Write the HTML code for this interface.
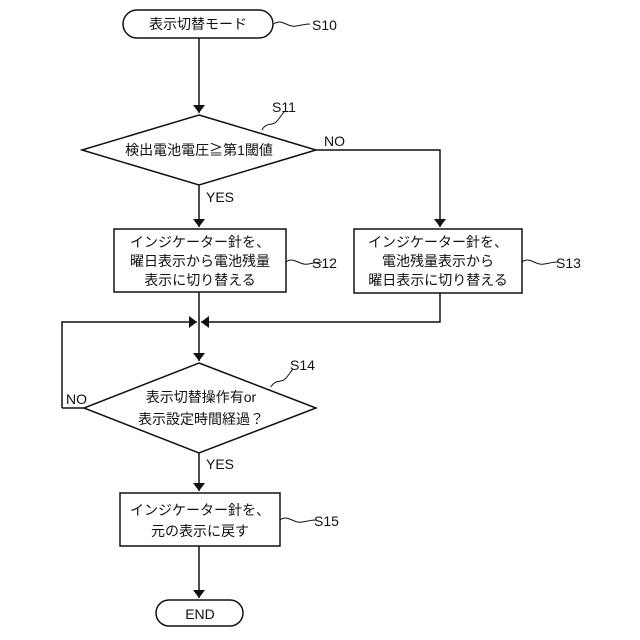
<!DOCTYPE html>
<html><head><meta charset="utf-8"><style>
html,body{margin:0;padding:0;background:#fff;}
svg{display:block;}
text{font-family:"Liberation Sans","Noto Sans CJK JP",sans-serif;fill:#111;}
</style></head><body>
<svg width="640" height="640" viewBox="0 0 640 640" xmlns="http://www.w3.org/2000/svg">
<defs><marker id="a" markerWidth="8" markerHeight="12" refX="8" refY="6" orient="auto" markerUnits="userSpaceOnUse"><path d="M0,0 L8,6 L0,12 z" fill="#111"/></marker></defs>
<g stroke="#111" stroke-width="1.5" fill="none">
<rect x="123" y="10" width="150" height="28" rx="14" fill="#fff"/>
<path d="M199,38 V113" marker-end="url(#a)"/>
<polygon points="199,115 316,150 199,185 82,150" fill="#fff"/>
<path d="M199,185 V227" marker-end="url(#a)"/>
<path d="M316,150 H440 V227" marker-end="url(#a)"/>
<rect x="114" y="229" width="172" height="63" fill="#fff"/>
<rect x="354" y="229" width="168" height="64" fill="#fff"/>
<path d="M199,292 V322"/>
<path d="M440,293 V322 H201" marker-end="url(#a)"/>
<path d="M62,408 V322 H197" marker-end="url(#a)"/>
<path d="M199,322 V361" marker-end="url(#a)"/>
<polygon points="199,363 316,408 199,453 84,408" fill="#fff"/>
<path d="M84,408 H62"/>
<path d="M199,453 V491" marker-end="url(#a)"/>
<rect x="120" y="493" width="160" height="53" fill="#fff"/>
<path d="M199,546 V598" marker-end="url(#a)"/>
<rect x="156" y="600" width="87" height="26" rx="13" fill="#fff"/>
<path d="M274,24 c8,-6 14,4 22,2 c6,-1 10,-2 14,-2" stroke-width="1"/>
<path d="M262,130 c4,-8 10,-4 14,-8 c4,-4 6,-8 8,-10" stroke-width="1"/>
<path d="M286,262 c8,-6 14,4 22,2 c6,-1 10,-2 14,-2" stroke-width="1"/>
<path d="M522,262 c8,-6 14,4 22,2 c6,-1 10,-2 14,-2" stroke-width="1"/>
<path d="M271,387 c4,-8 10,-4 14,-8 c4,-4 6,-8 8,-10" stroke-width="1"/>
<path d="M280,520 c8,-6 14,4 22,2 c6,-1 10,-2 14,-2" stroke-width="1"/>
</g>
<g font-size="14" text-anchor="middle">
<text x="198" y="29">表示切替モード</text>
<text x="199" y="155">検出電池電圧≧第1閾値</text>
<text x="200" y="247">インジケーター針を、</text>
<text x="200" y="266">曜日表示から電池残量</text>
<text x="200" y="285">表示に切り替える</text>
<text x="438" y="247">インジケーター針を、</text>
<text x="438" y="266">電池残量表示から</text>
<text x="438" y="285">曜日表示に切り替える</text>
<text x="201" y="402">表示切替操作有or</text>
<text x="201" y="424">表示設定時間経過？</text>
<text x="200" y="515">インジケーター針を、</text>
<text x="200" y="536">元の表示に戻す</text>
<text x="200" y="619">END</text>
</g>
<g font-size="14">
<text x="312" y="30">S10</text>
<text x="272" y="112">S11</text>
<text x="324" y="146">NO</text>
<text x="206" y="202">YES</text>
<text x="312" y="268">S12</text>
<text x="556" y="268">S13</text>
<text x="290" y="370">S14</text>
<text x="66" y="404">NO</text>
<text x="206" y="469">YES</text>
<text x="314" y="526">S15</text>
</g>
</svg>
</body></html>
